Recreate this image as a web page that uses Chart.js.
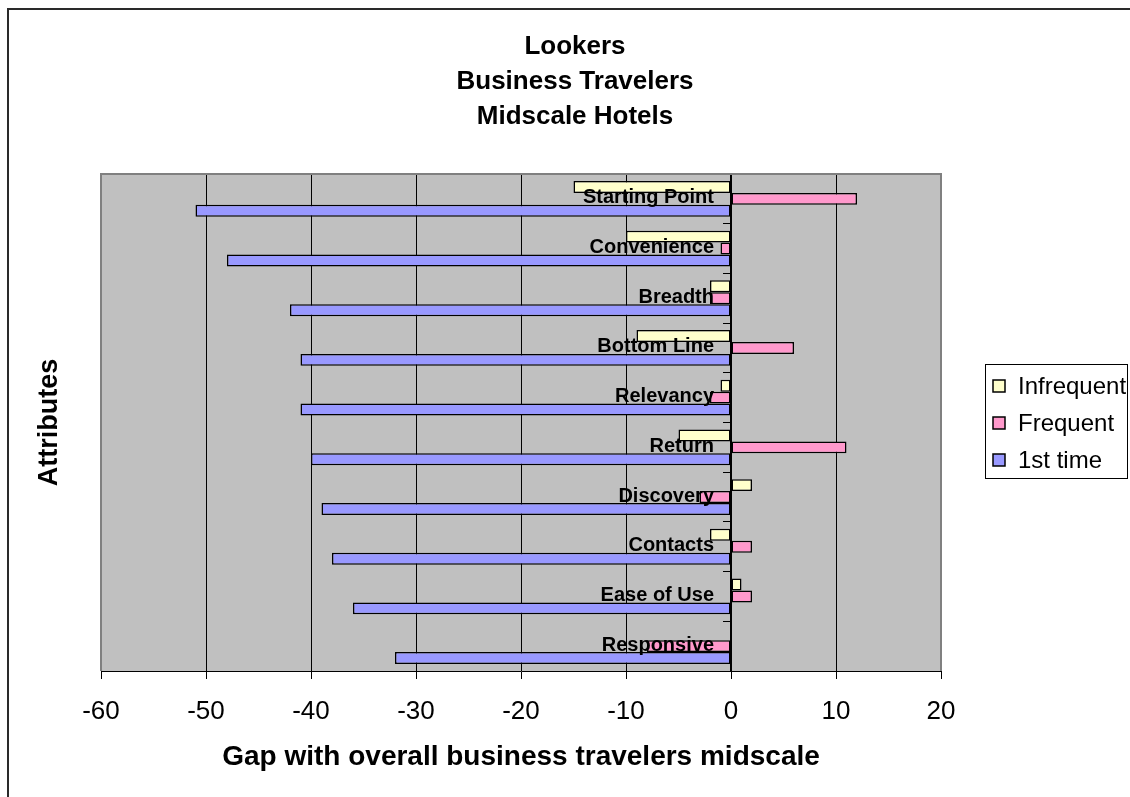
<!DOCTYPE html>
<html>
<head>
<meta charset="utf-8">
<title>Lookers – Business Travelers – Midscale Hotels</title>
<script src="https://cdn.jsdelivr.net/npm/chart.js@4.4.1/dist/chart.umd.min.js"></script>
<style>
  html, body { margin: 0; padding: 0; background: #ffffff; }
  #wrap { width: 1130px; height: 797px; position: relative; }
  canvas { display: block; }
</style>
</head>
<body>
<div id="wrap"><canvas id="chart" width="1130" height="797"></canvas></div>
<script>
// Attribute categories, top to bottom
const attributes = ['Starting Point', 'Convenience', 'Breadth', 'Bottom Line', 'Relevancy',
                    'Return', 'Discovery', 'Contacts', 'Ease of Use', 'Responsive'];

// Gap with overall business travelers midscale, per visitor segment
const infrequent = [-15, -10, -2, -9, -1, -5, 2, -2, 1, 0];
const frequent   = [12, -1, -2, 6, -2, 11, -3, 2, 2, -8];
const firstTime  = [-51, -48, -42, -41, -41, -40, -39, -38, -36, -32];

// Value axis range and tick step
const gapMin = -60;
const gapMax = 20;
const gapStep = 10;

const titleLines = ['Lookers', 'Business Travelers', 'Midscale Hotels'];
const xTitle = 'Gap with overall business travelers midscale';
const yTitle = 'Attributes';

const FONT = "'Liberation Sans', Arial, Helvetica, sans-serif";

// Grey plot background, plot frame, outer frame, title, category-axis title,
// category names beside the zero line and the boxed legend on the right.
const decorations = {
  id: 'decorations',
  beforeDraw(chart) {
    const {ctx, chartArea: a} = chart;
    ctx.save();
    ctx.fillStyle = '#ffffff';
    ctx.fillRect(0, 0, chart.width, chart.height);
    ctx.fillStyle = '#c0c0c0';
    ctx.fillRect(a.left, a.top, a.right - a.left, a.bottom - a.top);
    ctx.restore();
  },
  afterDatasetsDraw(chart) {
    // category names, right-aligned just left of the zero line, over the bars
    const {ctx} = chart;
    const xs = chart.scales.x, ys = chart.scales.y;
    const xZero = xs.getPixelForValue(0);
    ctx.save();
    ctx.fillStyle = '#000000';
    ctx.font = 'bold 20px ' + FONT;
    ctx.textAlign = 'right';
    ctx.textBaseline = 'middle';
    chart.data.labels.forEach((name, i) => {
      ctx.fillText(name, xZero - 17, ys.getPixelForValue(i) - 1);
    });
    ctx.restore();
  },
  afterDraw(chart) {
    const {ctx, chartArea: a} = chart;
    ctx.save();
    // plot frame (the bottom edge is the black value axis)
    ctx.strokeStyle = '#808080';
    ctx.lineWidth = 2;
    ctx.beginPath();
    ctx.moveTo(a.left, a.bottom);
    ctx.lineTo(a.left, a.top);
    ctx.lineTo(a.right, a.top);
    ctx.lineTo(a.right, a.bottom);
    ctx.stroke();

    // outer chart frame
    ctx.strokeStyle = '#2a2a2a';
    ctx.lineWidth = 2;
    ctx.beginPath();
    ctx.moveTo(8, chart.height);
    ctx.lineTo(8, 9);
    ctx.lineTo(chart.width, 9);
    ctx.stroke();

    // chart title
    ctx.fillStyle = '#000000';
    ctx.font = 'bold 26px ' + FONT;
    ctx.textAlign = 'center';
    ctx.textBaseline = 'middle';
    titleLines.forEach((line, i) => {
      ctx.fillText(line, 575, 47 + i * 35);
    });

    // category-axis title
    ctx.font = 'bold 27px ' + FONT;
    ctx.translate(50, (a.top + a.bottom) / 2);
    ctx.rotate(-Math.PI / 2);
    ctx.fillText(yTitle, 0, 0);
    ctx.setTransform(1, 0, 0, 1, 0, 0);

    // legend box
    const bx = 985, by = 364, bw = 142, bh = 114;
    ctx.fillStyle = '#ffffff';
    ctx.fillRect(bx, by, bw, bh);
    ctx.strokeStyle = '#000000';
    ctx.lineWidth = 1;
    ctx.strokeRect(bx + 0.5, by + 0.5, bw, bh);
    ctx.font = '24px ' + FONT;
    ctx.textAlign = 'left';
    ctx.textBaseline = 'middle';
    chart.data.datasets.forEach((ds, i) => {
      const cy = 386 + i * 37;
      ctx.fillStyle = ds.backgroundColor;
      ctx.fillRect(993, cy - 6, 12, 12);
      ctx.strokeStyle = '#000000';
      ctx.lineWidth = 1.5;
      ctx.strokeRect(993, cy - 6, 12, 12);
      ctx.fillStyle = '#000000';
      ctx.fillText(ds.label, 1018, cy + 1);
    });
    ctx.restore();
  }
};

const barStyle = {
  borderColor: '#000000',
  borderWidth: 1.5,
  borderSkipped: false,
  categoryPercentage: 0.72,
  barPercentage: 1.0
};

new Chart(document.getElementById('chart'), {
  type: 'bar',
  data: {
    labels: attributes,
    datasets: [
      Object.assign({label: 'Infrequent', data: infrequent, backgroundColor: '#ffffcc'}, barStyle),
      Object.assign({label: 'Frequent',   data: frequent,   backgroundColor: '#ff99cc'}, barStyle),
      Object.assign({label: '1st time',   data: firstTime,  backgroundColor: '#9999ff'}, barStyle)
    ]
  },
  options: {
    indexAxis: 'y',
    responsive: false,
    animation: false,
    devicePixelRatio: 1,
    layout: { padding: { left: 101, right: 189, top: 174, bottom: 0 } },
    plugins: {
      legend: { display: false },
      tooltip: { enabled: false },
      title: { display: false }
    },
    scales: {
      x: {
        type: 'linear',
        min: gapMin,
        max: gapMax,
        position: 'bottom',
        afterFit(scale) { scale.height = 126; },
        ticks: {
          stepSize: gapStep,
          color: '#000000',
          padding: 17,
          font: { family: FONT, size: 26 }
        },
        grid: { color: '#000000', lineWidth: 1, tickLength: 8, drawTicks: true },
        border: { display: true, color: '#000000', width: 1 },
        title: {
          display: true,
          text: xTitle,
          color: '#000000',
          font: { family: FONT, size: 28, weight: 'bold' },
          padding: { top: 0, bottom: 23 }
        }
      },
      y: {
        type: 'category',
        position: { x: 0 },
        ticks: { display: false },
        grid: { drawOnChartArea: false, drawTicks: true, tickLength: 7, color: '#000000', lineWidth: 1 },
        border: { display: true, color: '#000000', width: 1.5, z: 1 }
      }
    }
  },
  plugins: [decorations]
});
</script>
</body>
</html>
